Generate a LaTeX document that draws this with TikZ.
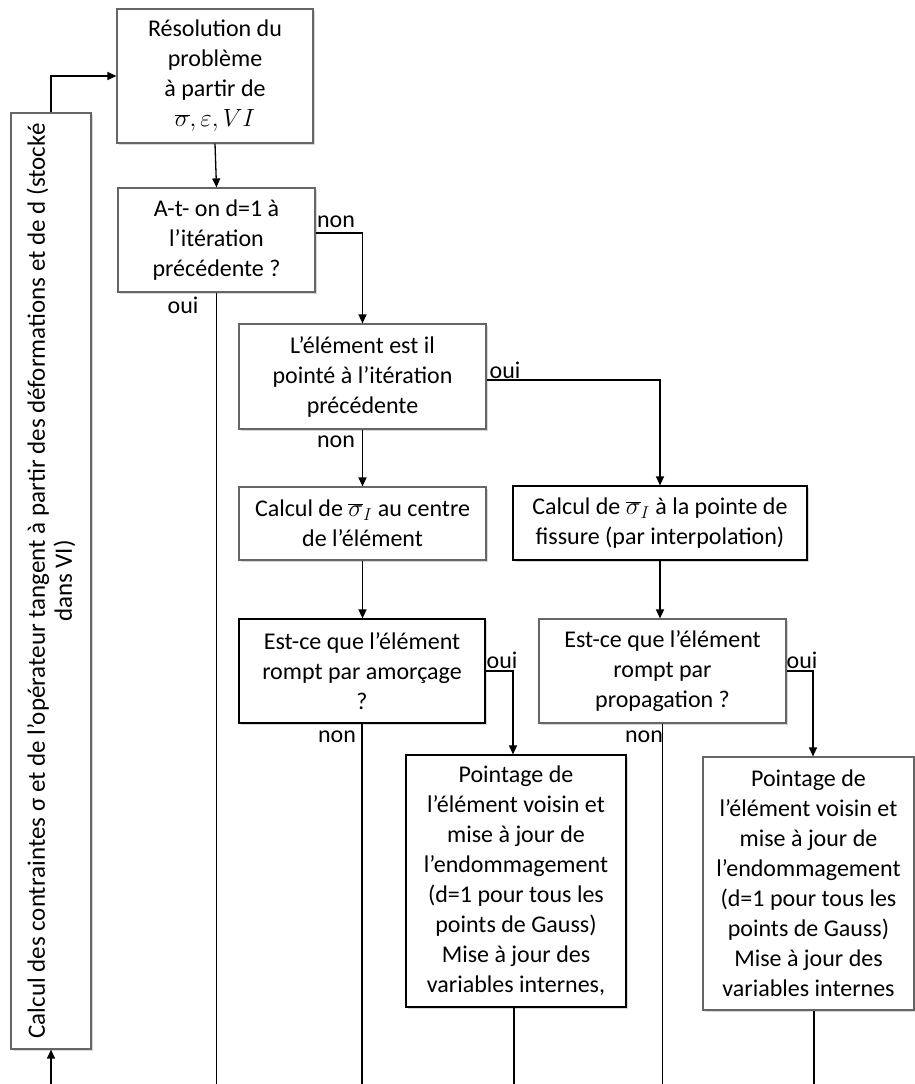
\documentclass[tikz,border=0pt]{standalone}
\usepackage{fontspec}
\setmainfont{Carlito}
\usetikzlibrary{arrows.meta,shadows}

\tikzset{
  boite/.style={draw=black!60,line width=1.2pt,rectangle,fill=white,align=center,inner sep=2pt,
    font=\fontsize{24}{30}\selectfont,drop shadow={shadow xshift=1.5pt,shadow yshift=-1.5pt,fill=black!30}},
  boitenoire/.style={boite,draw=black},
  etiq/.style={inner sep=0pt,font=\fontsize{24}{30}\selectfont},
  trait/.style={draw,line width=1.3pt},
  fleche/.style={trait,-{Triangle[length=9pt,width=8pt]}},
}

\begin{document}
\begin{tikzpicture}[x=1pt,y=1pt]
    \useasboundingbox (0,0) rectangle (915,-1084);
    \coordinate (bas) at (0,-1084);

    % boites
    \node[boite,minimum width=196pt,minimum height=134pt] (RES) at (215,-76) {Résolution du\\problème\\à partir de\\{\fontsize{27}{30}\selectfont$\overline{\sigma},\varepsilon,VI$}};
    \node[boite,minimum width=197pt,minimum height=104pt] (DUN) at (216.5,-240) {A-t- on d=1 à\\l’itération\\précédente ?};
    \node[boite,minimum width=247pt,minimum height=105pt] (PNT) at (362.5,-376.5) {L’élément est il\\pointé à l’itération\\précédente};
    \node[boite,minimum width=247pt,minimum height=73pt] (CCE) at (362.5,-523.5) {Calcul de $\overline{\sigma}_I$ au centre\\de l’élément};
    \node[boitenoire,minimum width=294pt,minimum height=74pt] (CPF) at (660,-523) {Calcul de $\overline{\sigma}_I$ à la pointe de\\fissure (par interpolation)};
    \node[boitenoire,minimum width=246pt,minimum height=104pt] (RAM) at (362,-671) {Est-ce que l’élément\\rompt par amorçage\\?};
    \node[boite,minimum width=247pt,minimum height=104pt] (RPR) at (662.5,-671) {Est-ce que l’élément\\rompt par\\propagation ?};
    \node[boitenoire,minimum width=220pt,minimum height=252pt] (MAJA) at (516,-881) {Pointage de\\l’élément voisin et\\mise à jour de\\l’endommagement\\(d=1 pour tous les\\points de Gauss)\\Mise à jour des\\variables internes,};
    \node[boite,minimum width=211pt,minimum height=253pt] (MAJP) at (808.5,-883.5) {Pointage de\\l’élément voisin et\\mise à jour de\\l’endommagement\\(d=1 pour tous les\\points de Gauss)\\Mise à jour des\\variables internes};
    \node[boite,minimum width=80pt,minimum height=936pt] (CTG) at (51,-581) {};
    \node[etiq,rotate=90,align=center,font=\fontsize{25}{27}\selectfont] (CTGT) at (CTG.center) {Calcul des contraintes σ et de l’opérateur tangent à partir des déformations et de d (stocké\\dans VI)};

    % etiquettes
    \node[etiq] (nonA) at (336,-222) {non};
    \node[etiq] (ouiA) at (183,-305) {oui};
    \node[etiq] (ouiE) at (505,-370) {oui};
    \node[etiq] (nonE) at (336,-442) {non};
    \node[etiq] (ouiS) at (502,-660) {oui};
    \node[etiq] (nonS) at (337,-737) {non};
    \node[etiq] (ouiR) at (802,-660) {oui};
    \node[etiq] (nonR) at (644,-737) {non};

    % liaisons
    \coordinate (entree) at (51,-1084);
    \path[fleche] (entree) -- (CTG.south);
    \path[fleche] (CTG.north) |- (RES.west);
    \path[fleche] (RES.south) -- (DUN.north);
    \path[fleche] ([yshift=7pt]DUN.east) -| (PNT.north);
    \path[trait] (DUN.south) -- (DUN.south |- bas);
    \path[fleche] ([yshift=-3.5pt]PNT.east) -| (CPF.north);
    \path[fleche] (PNT.south) -- (CCE.north);
    \path[fleche] (CCE.south) -- (CCE.south |- RAM.north);
    \path[fleche] (CPF.south) -- (CPF.south |- RPR.north);
    \path[fleche] (RAM.east) -| ([xshift=-3pt]MAJA.north);
    \path[trait] (RAM.south) -- (RAM.south |- bas);
    \path[fleche] (RPR.east) -| ([xshift=4.5pt]MAJP.north);
    \path[trait] (RPR.south) -- (RPR.south |- bas);
    \path[trait] ([xshift=-2pt]MAJA.south) -- ([xshift=-2pt]MAJA.south |- bas);
    \path[trait] ([xshift=5.5pt]MAJP.south) -- ([xshift=5.5pt]MAJP.south |- bas);
\end{tikzpicture}
\end{document}
